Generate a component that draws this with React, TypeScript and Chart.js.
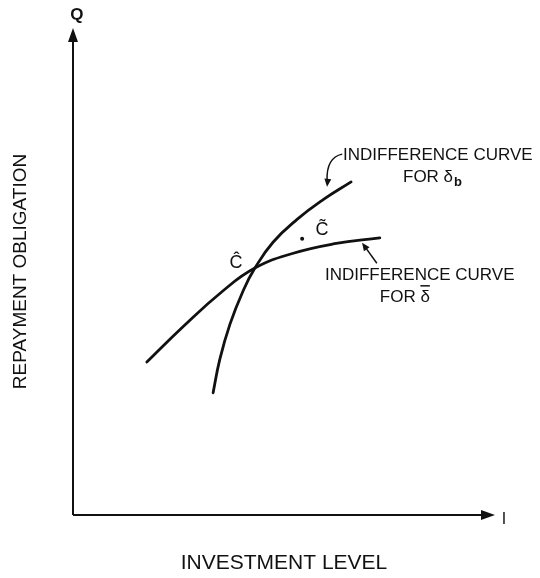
import { useEffect, useRef } from "react";
import { Chart, registerables } from "chart.js";

Chart.register(...registerables);

// Indifference curve for delta-bar (flatter curve)
const flatCurveX = [17.5, 26, 35.5, 43.1, 52, 62, 72.7];
const flatCurveY = [31.4, 38.6, 46.0, 50.7, 53.7, 55.7, 56.9];
// Indifference curve for delta_b (steeper curve)
const steepCurveX = [33.2, 34.8, 37.2, 40.3, 43.1, 47.4, 53.1, 59.2, 65.9];
const steepCurveY = [25.1, 32.0, 39.2, 46.0, 50.7, 56.0, 60.7, 64.7, 68.4];

// Point C-tilde and labels (data coordinates)
const pointCTilde = { x: 54.3, y: 56.7 };
const labelCTilde = { x: 59.0, y: 58.5, text: "C\u0303" };
const labelCHat = { x: 38.6, y: 51.7, text: "C\u0302" };

const axisMin = 0;
const axisMax = 100;
const xAxisTitle = "INVESTMENT LEVEL";
const yAxisTitle = "REPAYMENT OBLIGATION";
const xAxisEndLabel = { x: 102.1, y: -1.0, text: "I" };
const yAxisEndLabel = { x: 0.9, y: 102.7, text: "Q" };

const topLabelLine1 = { x: 64.0, y: 73.9, text: "INDIFFERENCE CURVE" };
const topLabelLine2 = { x: 78.2, y: 69.4, text: "FOR δ", sub: "b" };
const topArrow = { x0: 63.8, y0: 74.1, cx: 60.0, cy: 73.4, x1: 60.2, y1: 67.4 };

const bottomLabelLine1 = { x: 59.7, y: 49.3, text: "INDIFFERENCE CURVE" };
const bottomLabelLine2 = { x: 72.7, y: 44.8, text: "FOR ", bar: "δ" };
const bottomArrow = { x0: 72.0, y0: 51.7, x1: 68.5, y1: 55.9 };

const FONT = '"Liberation Sans", Arial, Helvetica, sans-serif';

function arrowHead(ctx: CanvasRenderingContext2D, tx: number, ty: number, angle: number, len: number, half: number) {
  ctx.save();
  ctx.translate(tx, ty);
  ctx.rotate(angle);
  ctx.beginPath();
  ctx.moveTo(0, 0);
  ctx.lineTo(-len, -half);
  ctx.lineTo(-len, half);
  ctx.closePath();
  ctx.fill();
  ctx.restore();
}

const annotationPlugin = {
  id: "annotations",
  afterDatasetsDraw(chart: any) {
    const { ctx, scales } = chart;
    const xs = scales.x;
    const ys = scales.y;
    const px = (v: number) => xs.getPixelForValue(v);
    const py = (v: number) => ys.getPixelForValue(v);
    ctx.save();
    ctx.strokeStyle = "#111";
    ctx.fillStyle = "#111";

    // Axes
    const ox = px(axisMin);
    const oy = py(axisMin);
    const xEnd = px(axisMax);
    const yEnd = py(axisMax);
    ctx.lineWidth = 2;
    ctx.beginPath();
    ctx.moveTo(ox, oy);
    ctx.lineTo(xEnd - 8, oy);
    ctx.moveTo(ox, oy);
    ctx.lineTo(ox, yEnd + 8);
    ctx.stroke();
    arrowHead(ctx, xEnd, oy, 0, 14, 5);
    arrowHead(ctx, ox, yEnd, -Math.PI / 2, 14, 5);

    // Axis end labels
    ctx.textAlign = "center";
    ctx.textBaseline = "middle";
    ctx.font = `bold 17px ${FONT}`;
    ctx.fillText(yAxisEndLabel.text, px(yAxisEndLabel.x), py(yAxisEndLabel.y));
    ctx.font = `16px ${FONT}`;
    ctx.fillText(xAxisEndLabel.text, px(xAxisEndLabel.x), py(xAxisEndLabel.y));

    // Point C-tilde
    ctx.beginPath();
    ctx.arc(px(pointCTilde.x), py(pointCTilde.y), 2, 0, Math.PI * 2);
    ctx.fill();

    ctx.font = `18px ${FONT}`;
    ctx.fillText(labelCTilde.text, px(labelCTilde.x), py(labelCTilde.y));
    ctx.fillText(labelCHat.text, px(labelCHat.x), py(labelCHat.y));

    // Curve labels
    ctx.textAlign = "left";
    ctx.font = `17px ${FONT}`;
    ctx.fillText(topLabelLine1.text, px(topLabelLine1.x), py(topLabelLine1.y));
    const t2x = px(topLabelLine2.x);
    const t2y = py(topLabelLine2.y);
    ctx.fillText(topLabelLine2.text, t2x, t2y);
    const w2 = ctx.measureText(topLabelLine2.text).width;
    ctx.font = `bold 13px ${FONT}`;
    ctx.fillText(topLabelLine2.sub, t2x + w2 + 1, t2y + 5);

    ctx.font = `17px ${FONT}`;
    ctx.fillText(bottomLabelLine1.text, px(bottomLabelLine1.x), py(bottomLabelLine1.y));
    const b2x = px(bottomLabelLine2.x);
    const b2y = py(bottomLabelLine2.y);
    ctx.fillText(bottomLabelLine2.text, b2x, b2y);
    const wb = ctx.measureText(bottomLabelLine2.text).width;
    ctx.fillText(bottomLabelLine2.bar, b2x + wb, b2y);
    const wd = ctx.measureText(bottomLabelLine2.bar).width;
    ctx.lineWidth = 1.5;
    ctx.beginPath();
    ctx.moveTo(b2x + wb, b2y - 11);
    ctx.lineTo(b2x + wb + wd, b2y - 11);
    ctx.stroke();

    // Label arrows
    ctx.lineWidth = 1.5;
    ctx.beginPath();
    ctx.moveTo(px(topArrow.x0), py(topArrow.y0));
    ctx.quadraticCurveTo(px(topArrow.cx), py(topArrow.cy), px(topArrow.x1), py(topArrow.y1) - 6);
    ctx.stroke();
    arrowHead(ctx, px(topArrow.x1), py(topArrow.y1), Math.PI / 2 + 0.1, 8, 3.5);

    const bx0 = px(bottomArrow.x0), by0 = py(bottomArrow.y0);
    const bx1 = px(bottomArrow.x1), by1 = py(bottomArrow.y1);
    const ang = Math.atan2(by1 - by0, bx1 - bx0);
    ctx.beginPath();
    ctx.moveTo(bx0, by0);
    ctx.lineTo(bx1 - 6 * Math.cos(ang), by1 - 6 * Math.sin(ang));
    ctx.stroke();
    arrowHead(ctx, bx1, by1, ang, 8, 3.5);

    ctx.restore();
  },
};

export default function App() {
  const canvasRef = useRef<HTMLCanvasElement | null>(null);

  useEffect(() => {
    document.body.style.margin = "0";
    const canvas = canvasRef.current;
    if (!canvas) return;
    const toPoints = (xs: number[], ys: number[]) => xs.map((x, i) => ({ x, y: ys[i] }));
    const chart = new Chart(canvas, {
      type: "scatter",
      data: {
        datasets: [
          {
            label: "Indifference curve for δ̄",
            data: toPoints(flatCurveX, flatCurveY),
            showLine: true,
            borderColor: "#111",
            borderWidth: 2.8,
            pointRadius: 0,
            tension: 0.45,
            borderCapStyle: "round",
          },
          {
            label: "Indifference curve for δb",
            data: toPoints(steepCurveX, steepCurveY),
            showLine: true,
            borderColor: "#111",
            borderWidth: 2.8,
            pointRadius: 0,
            tension: 0.45,
            borderCapStyle: "round",
          },
        ],
      },
      options: {
        animation: false,
        responsive: false,
        maintainAspectRatio: false,
        layout: { padding: { left: 0, top: 28, right: 45, bottom: 0 } },
        plugins: {
          legend: { display: false },
          tooltip: { enabled: false },
        },
        scales: {
          x: {
            type: "linear",
            min: axisMin,
            max: axisMax,
            grid: { display: false },
            border: { display: false },
            ticks: { display: false },
            title: {
              display: true,
              text: xAxisTitle,
              color: "#111",
              font: { family: FONT, size: 21 },
              padding: { top: 0, bottom: 2 },
            },
            afterFit: (scale: any) => {
              scale.height = 63;
            },
          },
          y: {
            type: "linear",
            min: axisMin,
            max: axisMax,
            grid: { display: false },
            border: { display: false },
            ticks: { display: false },
            title: {
              display: true,
              text: yAxisTitle,
              color: "#111",
              font: { family: FONT, size: 19 },
              padding: { top: 9, bottom: 0 },
            },
            afterFit: (scale: any) => {
              scale.width = 73;
            },
          },
        },
      },
      plugins: [annotationPlugin],
    } as any);
    return () => chart.destroy();
  }, []);

  return (
    <div style={{ width: 540, height: 578, background: "#fff" }}>
      <canvas ref={canvasRef} width={540} height={578} style={{ display: "block" }} />
    </div>
  );
}
